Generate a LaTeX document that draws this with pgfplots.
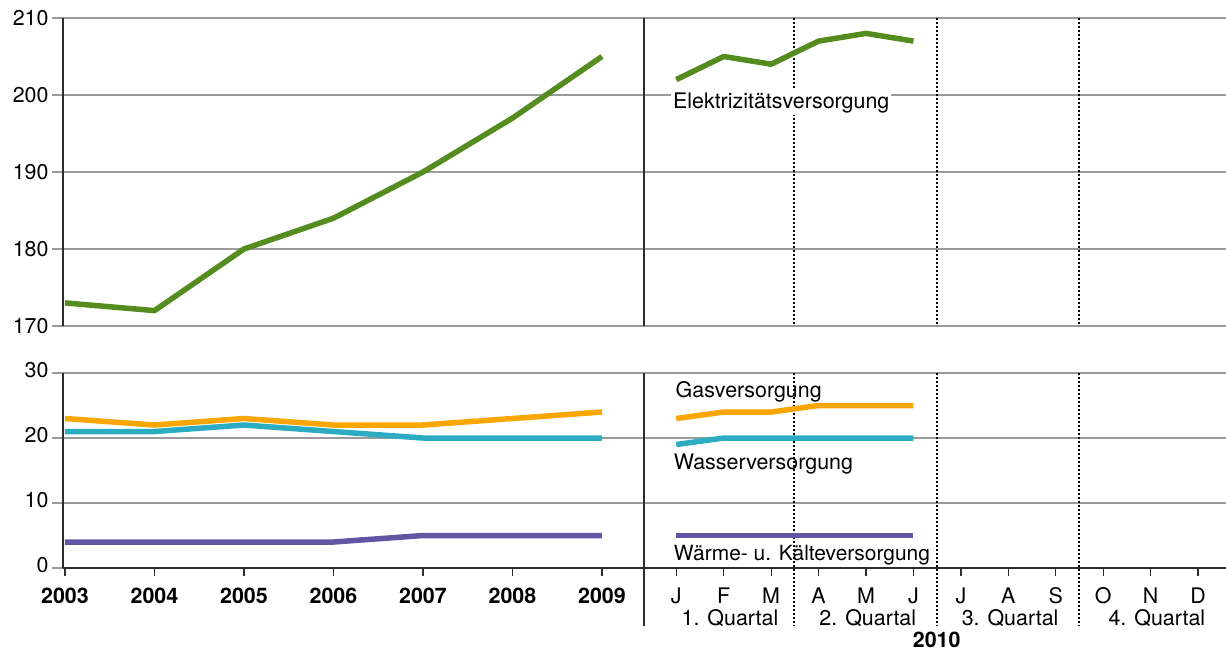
\documentclass[border=0pt]{standalone}
\usepackage{fontspec}
\setmainfont{TeX Gyre Heros}
\usepackage{pgfplots}
\usepackage{pgfplotstable}
\pgfplotsset{compat=1.18}

\definecolor{strom}{RGB}{84,140,32}
\definecolor{gas}{RGB}{249,166,0}
\definecolor{wasser}{RGB}{44,172,192}
\definecolor{waerme}{RGB}{100,84,164}
\definecolor{gitter}{RGB}{155,155,155}
\definecolor{achse}{RGB}{45,45,45}

\newcommand\lab{\fontsize{21.5}{24}\selectfont}

% Jahreswerte 2003-2009 (x = 0..6)
\pgfplotstableread{
x strom gas wasser waerme
0 173 23 21 4
1 172 22 21 4
2 180 23 22 4
3 184 22 21 4
4 190 22 20 5
5 197 23 20 5
6 205 24 20 5
}\jahre

% Monatswerte 2010, Januar bis Juni
\pgfplotstableread{
x strom gas wasser waerme
6.83 202 23 19 5
7.36 205 24 20 5
7.89 204 24 20 5
8.42 207 25 20 5
8.95 208 25 20 5
9.48 207 25 20 5
}\monate

\tikzset{
  trenn/.style={draw=achse, line width=1.4bp},
  punkt/.style={draw=black, line width=1.8bp, dash pattern=on 1.6bp off 2.4bp},
}

\begin{document}
\begin{tikzpicture}
\pgfplotsset{
  panel/.style={
    x=89.5bp, xmin=-0.022, xmax=12.972,
    axis y line*=left,
    y axis line style={draw=achse, line width=1.4bp},
    ymajorgrids,
    grid style={gitter, line width=1.4bp},
    tick align=outside,
    major tick length=11bp,
    ytick style={gitter, line width=1.4bp},
    yticklabel style={font=\lab},
    /pgf/number format/assume math mode=true,
    clip=false,
  },
  serie/.style={line width=5.5bp, line join=round},
}

\begin{axis}[panel, name=oben,
  y=7.7bp, ymin=170, ymax=210, ytick={170,180,190,200,210},
  axis x line=none]
  \draw[trenn] (axis cs:6.47,210) -- (axis cs:6.47,170);
  \pgfplotsinvokeforeach{8.145,9.74,11.33}{
    \draw[punkt] (axis cs:#1,210) -- (axis cs:#1,170);
  }
  \addplot[serie, strom] table[x=x, y=strom] {\jahre};
  \addplot[serie, strom] table[x=x, y=strom] {\monate};
  \node[anchor=base west, fill=white, inner sep=2bp, font=\lab] at (axis cs:6.77,198.3) {Elektrizitätsversorgung};
\end{axis}

\begin{axis}[panel, name=unten,
  at={(oben.south west)}, anchor=north west, yshift=-47bp,
  y=6.5bp, ymin=0, ymax=30, ytick={0,10,20,30},
  axis x line*=bottom,
  x axis line style={draw=achse, line width=1.4bp},
  xtick={0,1,2,3,4,5,6,6.83,7.36,7.89,8.42,8.95,9.48,10.01,10.54,11.07,11.60,12.13,12.66},
  xticklabels={\textbf{2003},\textbf{2004},\textbf{2005},\textbf{2006},\textbf{2007},\textbf{2008},\textbf{2009},J,F,M,A,M,J,J,A,S,O,N,D},
  xtick style={achse, line width=1.3bp, /pgfplots/major tick length=8bp},
  xticklabel style={font=\lab, anchor=base, yshift=-24bp},
  typeset ticklabels with strut]
  \draw[trenn] (axis cs:6.47,30) -- (axis cs:6.47,-8.9);
  \pgfplotsinvokeforeach{8.145,9.74,11.33}{
    \draw[punkt] (axis cs:#1,30) -- (axis cs:#1,-8.9);
  }
  \addplot[serie, gas] table[x=x, y=gas] {\jahre};
  \addplot[serie, gas] table[x=x, y=gas] {\monate};
  \addplot[serie, wasser] table[x=x, y=wasser] {\jahre};
  \addplot[serie, wasser] table[x=x, y=wasser] {\monate};
  \addplot[serie, waerme] table[x=x, y=waerme] {\jahre};
  \addplot[serie, waerme] table[x=x, y=waerme] {\monate};
  \node[anchor=base west, inner sep=1bp, font=\lab] at (axis cs:6.81,26.3) {Gasversorgung};
  \node[anchor=base west, inner sep=1bp, font=\lab] at (axis cs:6.79,15.1) {Wasserversorgung};
  \node[anchor=base west, inner sep=1bp, font=\fontsize{21}{24}\selectfont] at (axis cs:6.79,1.1) {Wärme- u. Kälteversorgung};
  \node[anchor=base, font=\lab] at (axis cs:7.43,-8.77) {1. Quartal};
  \node[anchor=base, font=\lab] at (axis cs:8.97,-8.77) {2. Quartal};
  \node[anchor=base, font=\lab] at (axis cs:10.56,-8.77) {3. Quartal};
  \node[anchor=base, font=\lab] at (axis cs:12.2,-8.77) {4. Quartal};
  \node[anchor=base, font=\lab\bfseries] at (axis cs:9.74,-12.15) {2010};
\end{axis}

\pgfresetboundingbox
\path[use as bounding box] ([xshift=-63bp,yshift=18bp]oben.north west) rectangle ([yshift=-637bp]oben.north east);
\end{tikzpicture}
\end{document}
